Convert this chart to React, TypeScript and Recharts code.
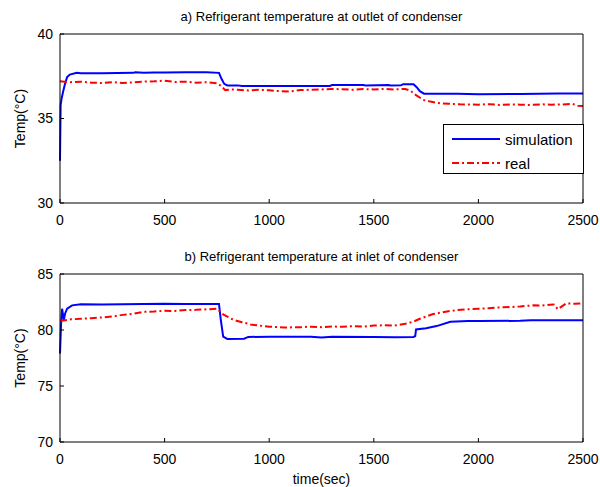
import { Legend, Line, LineChart, XAxis, YAxis } from "recharts";

// time axis shared by both panels
const X_TICKS = [0, 500, 1000, 1500, 2000, 2500];
const OUTLET_TICKS = [30, 35, 40];
const INLET_TICKS = [70, 75, 80, 85];
const LEGEND_ITEMS = ["simulation", "real"];

// a) outlet of condenser
const outletSimTime = [0, 3, 8, 15, 25, 34, 47, 80, 100, 200, 350, 360, 400, 450, 500, 600, 700, 760, 772, 785, 800, 850, 870, 1000, 1200, 1290, 1300, 1450, 1460, 1570, 1580, 1630, 1640, 1690, 1705, 1720, 1740, 1900, 2000, 2200, 2380, 2500];
const outletSimTemp = [32.5, 35.8, 36.2, 36.6, 37.1, 37.45, 37.6, 37.7, 37.68, 37.68, 37.7, 37.73, 37.7, 37.72, 37.72, 37.74, 37.73, 37.7, 37.35, 37.05, 36.96, 36.96, 36.92, 36.92, 36.93, 36.93, 36.98, 36.98, 36.96, 36.98, 36.95, 36.96, 37.03, 37.02, 36.85, 36.62, 36.47, 36.47, 36.44, 36.45, 36.48, 36.48];
const outletRealTime = [0, 50, 100, 150, 200, 250, 300, 350, 400, 450, 500, 550, 600, 650, 700, 755, 772, 790, 820, 850, 900, 950, 1000, 1050, 1100, 1150, 1200, 1250, 1300, 1350, 1400, 1450, 1500, 1550, 1600, 1650, 1675, 1700, 1736, 1770, 1818, 1860, 1913, 1950, 2000, 2050, 2100, 2150, 2200, 2250, 2300, 2350, 2400, 2450, 2475, 2500];
const outletRealTemp = [37.2, 37.15, 37.18, 37.12, 37.1, 37.15, 37.1, 37.14, 37.18, 37.2, 37.24, 37.16, 37.18, 37.12, 37.15, 37.08, 36.9, 36.68, 36.72, 36.7, 36.66, 36.7, 36.67, 36.62, 36.6, 36.68, 36.7, 36.72, 36.75, 36.73, 36.7, 36.74, 36.72, 36.75, 36.72, 36.75, 36.65, 36.4, 36.1, 36.0, 35.9, 35.87, 35.84, 35.83, 35.82, 35.85, 35.8, 35.83, 35.82, 35.8, 35.84, 35.82, 35.83, 35.86, 35.76, 35.74];

// b) inlet of condenser
const inletSimTime = [0, 5, 10, 18, 25, 34, 58, 100, 200, 300, 400, 500, 600, 700, 760, 768, 780, 800, 880, 900, 1000, 1200, 1250, 1300, 1500, 1600, 1690, 1698, 1702, 1750, 1800, 1866, 1950, 2000, 2200, 2250, 2500];
const inletSimTemp = [77.9, 80.5, 81.9, 80.9, 81.5, 81.9, 82.2, 82.3, 82.28, 82.3, 82.32, 82.35, 82.32, 82.33, 82.33, 81.0, 79.4, 79.2, 79.22, 79.38, 79.4, 79.4, 79.32, 79.4, 79.38, 79.35, 79.38, 79.45, 80.05, 80.15, 80.35, 80.74, 80.8, 80.8, 80.82, 80.88, 80.88];
const inletRealTime = [0, 50, 100, 150, 200, 250, 300, 350, 400, 450, 500, 550, 600, 650, 700, 750, 780, 800, 830, 870, 910, 950, 1000, 1070, 1150, 1200, 1250, 1300, 1350, 1400, 1450, 1500, 1550, 1600, 1650, 1690, 1720, 1750, 1784, 1820, 1863, 1900, 1943, 2000, 2050, 2100, 2150, 2200, 2261, 2300, 2341, 2360, 2380, 2420, 2460, 2500];
const inletRealTemp = [80.8, 80.95, 81.0, 81.05, 81.12, 81.2, 81.35, 81.45, 81.62, 81.65, 81.72, 81.7, 81.78, 81.8, 81.85, 81.9, 81.4, 81.2, 80.9, 80.7, 80.5, 80.4, 80.3, 80.22, 80.25, 80.3, 80.25, 80.32, 80.28, 80.35, 80.3, 80.4, 80.42, 80.4, 80.55, 80.75, 81.0, 81.2, 81.43, 81.55, 81.7, 81.78, 81.85, 81.9, 81.95, 82.02, 82.05, 82.1, 82.2, 82.18, 82.25, 82.28, 81.85, 82.38, 82.35, 82.38];

const FONT = '"Liberation Sans", Arial, sans-serif';
const BLUE = "#0000ff";
const RED = "#ff0000";
const DASH_DOT = "7 3 2 3";

const toPoints = (ts: number[], vs: number[]) => ts.map((t, i) => ({ t, v: vs[i] }));

function YLabel({ viewBox }: any) {
  const cy = viewBox.y + viewBox.height / 2;
  return (
    <text x={20} y={cy} transform={`rotate(-90, 20, ${cy})`} textAnchor="middle" dominantBaseline="central"
      fontSize={14} fill="#000" fontFamily={FONT}>
      Temp(°C)
    </text>
  );
}

function LegendBox() {
  return (
    <div style={{ position: "relative", boxSizing: "border-box", width: 141, height: 50, border: "1px solid #000",
      background: "#fff", fontFamily: FONT, fontSize: 15, color: "#000" }}>
      {LEGEND_ITEMS.map((name, i) => (
        <div key={name} style={{ position: "absolute", left: 8, top: 4 + i * 24, height: 20, display: "flex", alignItems: "center" }}>
          <svg width={48} height={6} style={{ marginRight: 5 }}>
            <line x1={0} y1={3} x2={48} y2={3} stroke={i === 0 ? BLUE : RED} strokeWidth={2}
              strokeDasharray={i === 0 ? undefined : DASH_DOT} />
          </svg>
          <span>{name}</span>
        </div>
      ))}
    </div>
  );
}

type PanelProps = {
  height: number;
  xHeight: number;
  domain: [number, number];
  yTicks: number[];
  sim: { t: number; v: number }[];
  real: { t: number; v: number }[];
  showLegend?: boolean;
  xLabel?: string;
};

function Panel({ height, xHeight, domain, yTicks, sim, real, showLegend, xLabel }: PanelProps) {
  const tickStyle = { fill: "#000", fontSize: 14, fontFamily: FONT };
  return (
    <LineChart width={600} height={height} margin={{ top: 33, right: 16, bottom: 0, left: 0 }}>
      <XAxis dataKey="t" type="number" domain={[0, 2500]} ticks={X_TICKS} tick={tickStyle} tickSize={-4}
        tickMargin={16} height={xHeight} stroke="#000" tickLine={{ stroke: "#000" }}
        label={xLabel ? { value: xLabel, position: "insideBottom", offset: 3, fill: "#000", fontSize: 14, fontFamily: FONT } : undefined} />
      <XAxis xAxisId="top" orientation="top" dataKey="t" type="number" domain={[0, 2500]} ticks={X_TICKS}
        tick={{ fontSize: 0 }} tickSize={-4} height={1} stroke="#000" tickLine={{ stroke: "#000" }} />
      <YAxis type="number" domain={domain} ticks={yTicks} tick={tickStyle} tickSize={-4} tickMargin={11}
        width={60} stroke="#000" tickLine={{ stroke: "#000" }} label={<YLabel />} />
      <YAxis yAxisId="right" orientation="right" type="number" domain={domain} ticks={yTicks}
        tick={{ fontSize: 0 }} tickSize={-4} width={1} stroke="#000" tickLine={{ stroke: "#000" }} />
      {showLegend && (
        <Legend verticalAlign="middle" layout="horizontal" content={<LegendBox />}
          wrapperStyle={{ left: 443, top: 124, width: 141, height: 50 }} />
      )}
      <Line data={sim} dataKey="v" name="simulation" stroke={BLUE} strokeWidth={2} dot={false} isAnimationActive={false} />
      <Line data={real} dataKey="v" name="real" stroke={RED} strokeWidth={2} strokeDasharray={DASH_DOT} dot={false}
        isAnimationActive={false} />
    </LineChart>
  );
}

const titleStyle = (top: number) => ({
  position: "absolute" as const, left: 60, width: 523, top, textAlign: "center" as const,
  fontFamily: FONT, fontSize: 13, lineHeight: "16px", color: "#000",
});

export default function App() {
  return (
    <div style={{ position: "absolute", left: 0, top: 0, width: 600, height: 487, background: "#fff", fontFamily: FONT }}>
      <div style={titleStyle(9)}>a) Refrigerant temperature at outlet of condenser</div>
      <div style={{ position: "absolute", left: 0, top: 0 }}>
        <Panel height={240} xHeight={37} domain={[30, 40]} yTicks={OUTLET_TICKS}
          sim={toPoints(outletSimTime, outletSimTemp)} real={toPoints(outletRealTime, outletRealTemp)} showLegend />
      </div>
      <div style={titleStyle(249)}>b) Refrigerant temperature at inlet of condenser</div>
      <div style={{ position: "absolute", left: 0, top: 240 }}>
        <Panel height={247} xHeight={45} domain={[70, 85]} yTicks={INLET_TICKS}
          sim={toPoints(inletSimTime, inletSimTemp)} real={toPoints(inletRealTime, inletRealTemp)} xLabel="time(sec)" />
      </div>
    </div>
  );
}
